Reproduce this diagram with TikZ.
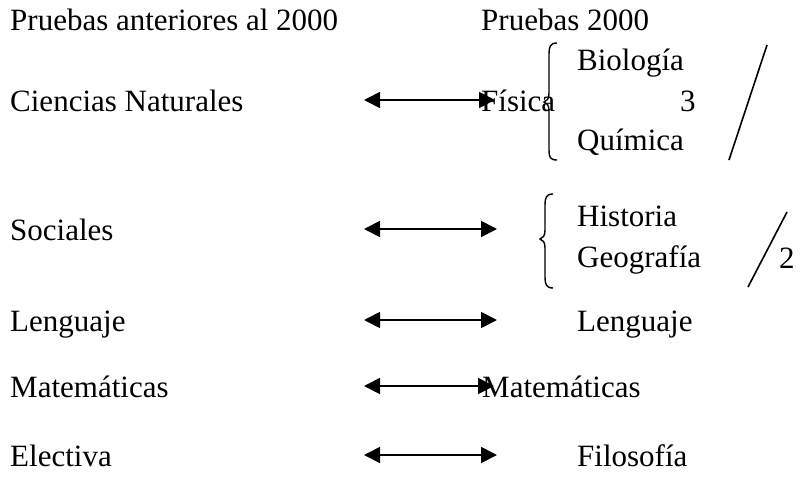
\documentclass[tikz,border=0pt]{standalone}
\usepackage{fontspec}
\setmainfont{Liberation Serif}
\usetikzlibrary{arrows.meta}
\begin{document}
\begin{tikzpicture}[x=1pt,y=-1pt,
  txt/.style={anchor=base west,inner sep=0pt,font=\fontsize{31}{37}\selectfont},
  dbl/.style={line width=1.8pt,{Triangle[length=16pt,width=16pt]}-{Triangle[length=16pt,width=16pt]}},
  bracestyle/.style={line width=1.4pt},
  slashstyle/.style={line width=1.6pt}]
\fill[white] (0,0) rectangle (804,488);
\useasboundingbox (0,0) rectangle (804,488);
% headers
\node[txt] (h1) at (10,30) {Pruebas anteriores al 2000};
\node[txt] (h2) at (481,30) {Pruebas 2000};
% row 1
\node[txt] (cn) at (10,111) {Ciencias Naturales};
\node[txt] (fis) at (481,111) {Física};
\node[txt] (bio) at (577,70) {Biología};
\node[txt] (qui) at (577,150) {Química};
\node[txt] (n3) at (680,111) {3};
\draw[bracestyle] (557,43) .. controls (550,43) and (549,47) .. (549,54) -- (549,93)
  .. controls (549,99) and (547,101) .. (544,102)
  .. controls (547,103) and (549,105) .. (549,111) -- (549,150)
  .. controls (549,157) and (550,160) .. (557,160);
\coordinate (s1a) at (767,45);
\coordinate (s1b) at (729,160);
\draw[slashstyle] (s1a) -- (s1b);
% row 2
\node[txt] (soc) at (10,240) {Sociales};
\node[txt] (his) at (577,226) {Historia};
\node[txt] (geo) at (577,267) {Geografía};
\node[txt] (n2) at (779,268) {2};
\draw[bracestyle] (553,194) .. controls (546,194) and (545,198) .. (545,205) -- (545,230)
  .. controls (545,236) and (543,238) .. (540,239)
  .. controls (543,240) and (545,242) .. (545,248) -- (545,277)
  .. controls (545,284) and (546,288) .. (553,288);
\coordinate (s2a) at (787,212);
\coordinate (s2b) at (748,287);
\draw[slashstyle] (s2a) -- (s2b);
% rows 3-5
\node[txt] (len1) at (10,331) {Lenguaje};
\node[txt] (len2) at (577,331) {Lenguaje};
\node[txt] (mat1) at (10,397) {Matemáticas};
\node[txt] (mat2) at (482,397) {Matemáticas};
\node[txt] (ele) at (10,466) {Electiva};
\node[txt] (fil) at (577,466) {Filosofía};
% arrows
\coordinate (a1l) at (364,100); \coordinate (a1r) at (495,100);
\coordinate (a2l) at (364,229); \coordinate (a2r) at (497,229);
\coordinate (a3l) at (364,320); \coordinate (a3r) at (497,320);
\coordinate (a4l) at (364,386); \coordinate (a4r) at (494,386);
\coordinate (a5l) at (364,455); \coordinate (a5r) at (497,455);
\draw[dbl] (a1l) -- (a1r);
\draw[dbl] (a2l) -- (a2r);
\draw[dbl] (a3l) -- (a3r);
\draw[dbl] (a4l) -- (a4r);
\draw[dbl] (a5l) -- (a5r);
\end{tikzpicture}
\end{document}
